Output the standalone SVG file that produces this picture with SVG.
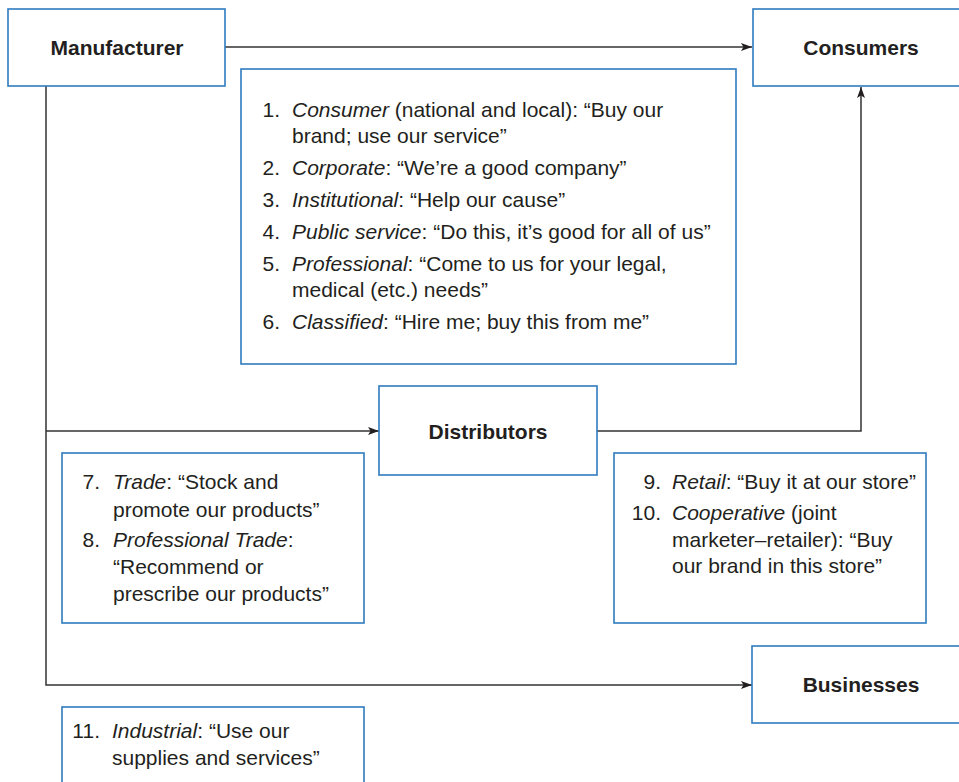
<svg xmlns="http://www.w3.org/2000/svg" width="959" height="782" viewBox="0 0 959 782">
<defs>
<marker id="arr" markerUnits="userSpaceOnUse" markerWidth="12" markerHeight="10" refX="11" refY="4" orient="auto">
<path d="M0,0 L11,4 L0,8 L2.5,4 z" fill="#231f20"/>
</marker>
<style>
.box{fill:#fff;stroke:#2f7bbf;stroke-width:1.6}
.conn{fill:none;stroke:#333;stroke-width:1.5}
.t{font-family:"Liberation Sans",Arial,sans-serif;font-size:21px;fill:#231f20}
.b{font-family:"Liberation Sans",Arial,sans-serif;font-size:21px;font-weight:bold;fill:#231f20;text-anchor:middle}
.n{text-anchor:end}
.i{font-style:italic}
</style>
</defs>
<rect width="959" height="782" fill="#fff"/>
<g id="connectors">
<path class="conn" d="M225,47 H752" marker-end="url(#arr)"/>
<path class="conn" d="M46,86 V685 H752" marker-end="url(#arr)"/>
<path class="conn" d="M46,431 H379" marker-end="url(#arr)"/>
<path class="conn" d="M597,431 H861 V87" marker-end="url(#arr)"/>
</g>
<g id="manufacturer">
<rect class="box" x="8" y="9" width="217" height="77"/>
<text class="b" x="117" y="54.5">Manufacturer</text>
</g>
<g id="consumers">
<rect class="box" x="753" y="9" width="212" height="77"/>
<text class="b" x="861" y="54.5">Consumers</text>
</g>
<g id="consumer-ads">
<rect class="box" x="241" y="69" width="495" height="295"/>
<text class="t n" x="280" y="117">1.</text>
<text class="t" x="292" y="117"><tspan class="i">Consumer</tspan> (national and local): “Buy our</text>
<text class="t" x="292" y="143">brand; use our service”</text>
<text class="t n" x="280" y="175">2.</text>
<text class="t" x="292" y="175"><tspan class="i">Corporate</tspan>: “We’re a good company”</text>
<text class="t n" x="280" y="207">3.</text>
<text class="t" x="292" y="207"><tspan class="i">Institutional</tspan>: “Help our cause”</text>
<text class="t n" x="280" y="239">4.</text>
<text class="t" x="292" y="239"><tspan class="i">Public service</tspan>: “Do this, it’s good for all of us”</text>
<text class="t n" x="280" y="271">5.</text>
<text class="t" x="292" y="271"><tspan class="i">Professional</tspan>: “Come to us for your legal,</text>
<text class="t" x="292" y="297">medical (etc.) needs”</text>
<text class="t n" x="280" y="329">6.</text>
<text class="t" x="292" y="329"><tspan class="i">Classified</tspan>: “Hire me; buy this from me”</text>
</g>
<g id="distributors">
<rect class="box" x="379" y="386" width="218" height="89"/>
<text class="b" x="488" y="438.5">Distributors</text>
</g>
<g id="trade-ads">
<rect class="box" x="62" y="453" width="302" height="170"/>
<text class="t n" x="100" y="489">7.</text>
<text class="t" x="113" y="489"><tspan class="i">Trade</tspan>: “Stock and</text>
<text class="t" x="113" y="517">promote our products”</text>
<text class="t n" x="100" y="547">8.</text>
<text class="t" x="113" y="547"><tspan class="i">Professional Trade</tspan>:</text>
<text class="t" x="113" y="574">“Recommend or</text>
<text class="t" x="113" y="601">prescribe our products”</text>
</g>
<g id="retail-ads">
<rect class="box" x="614" y="453" width="312" height="170"/>
<text class="t n" x="661" y="489">9.</text>
<text class="t" x="672" y="489"><tspan class="i">Retail</tspan>: “Buy it at our store”</text>
<text class="t n" x="661" y="520">10.</text>
<text class="t" x="672" y="520"><tspan class="i">Cooperative</tspan> (joint</text>
<text class="t" x="672" y="547">marketer–retailer): “Buy</text>
<text class="t" x="672" y="573">our brand in this store”</text>
</g>
<g id="businesses">
<rect class="box" x="752" y="646" width="212" height="77"/>
<text class="b" x="861" y="691.5">Businesses</text>
</g>
<g id="industrial-ads">
<rect class="box" x="62" y="707" width="302" height="90"/>
<text class="t n" x="100" y="738">11.</text>
<text class="t" x="112" y="738"><tspan class="i">Industrial</tspan>: “Use our</text>
<text class="t" x="112" y="765">supplies and services”</text>
</g>
</svg>
